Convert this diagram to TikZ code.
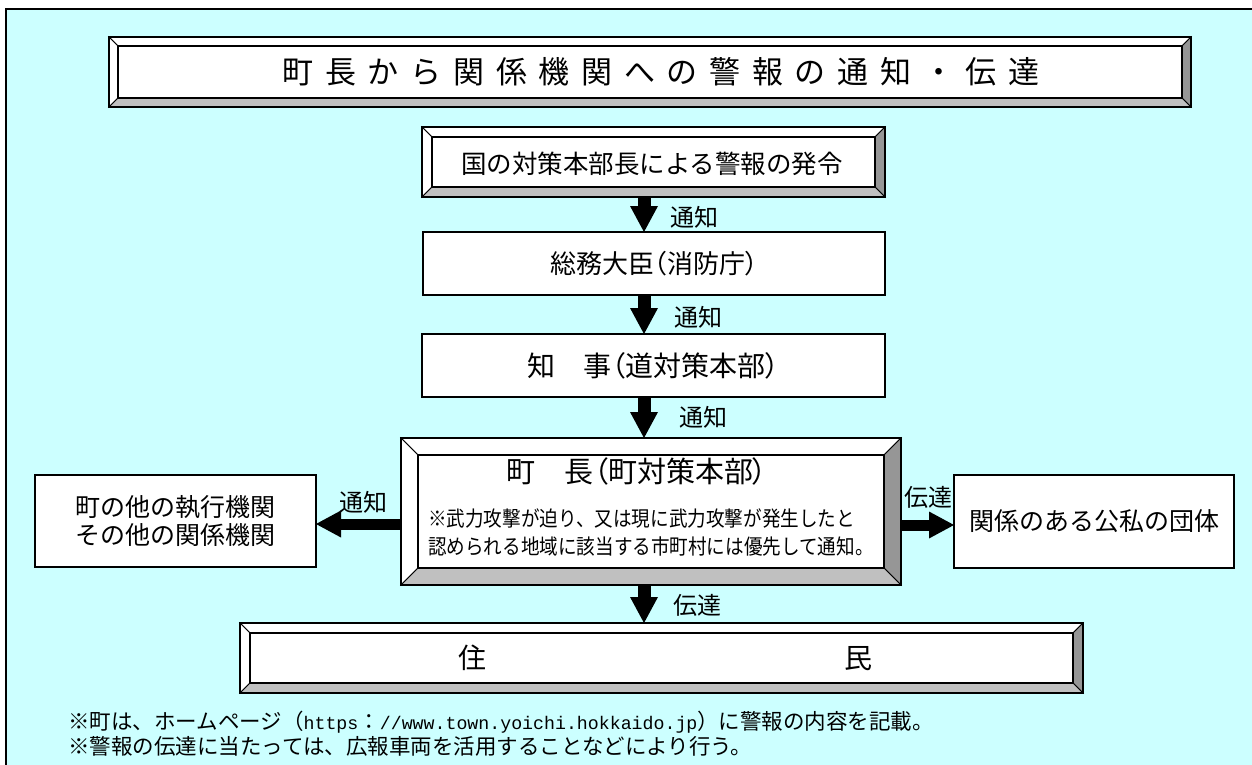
\documentclass[tikz,border=0pt]{standalone}
\usepackage{fontspec}
\setmainfont{Noto Sans CJK JP}
\newfontfamily\jp{Noto Sans CJK JP}
\newfontfamily\jpp{Noto Sans CJK JP}[RawFeature=+palt]
\newfontfamily\jpn{Noto Sans CJK JP}[FakeStretch=0.885]
\newfontfamily\monof{Liberation Mono}
\usetikzlibrary{arrows.meta,calc}
\definecolor{bgcyan}{HTML}{CCFFFF}
\definecolor{bevdark}{HTML}{969696}
\definecolor{bevlight}{HTML}{C0C0C0}
\newcommand\jfs[1]{\fontsize{#1pt}{#1pt}\selectfont}
\newcommand\tsp{\hspace{11.7pt}}
\newcommand\bevelize[2]{%
  \coordinate (o1) at (#1.north west);
  \coordinate (o2) at (#1.north east);
  \coordinate (o3) at (#1.south east);
  \coordinate (o4) at (#1.south west);
  \coordinate (i1) at ($(#1.north west)+(#2,#2)$);
  \coordinate (i2) at ($(#1.north east)+(-#2,#2)$);
  \coordinate (i3) at ($(#1.south east)+(-#2,-#2)$);
  \coordinate (i4) at ($(#1.south west)+(#2,-#2)$);
  \filldraw[face, fill=white] (o1) -- (o2) -- (i2) -- (i1) -- cycle;
  \filldraw[face, fill=white] (o1) -- (i1) -- (i4) -- (o4) -- cycle;
  \filldraw[face, fill=bevdark] (o2) -- (o3) -- (i3) -- (i2) -- cycle;
  \filldraw[face, fill=bevlight] (o4) -- (i4) -- (i3) -- (o3) -- cycle;
  \draw[innerline] (i1) rectangle (i3);
  \draw[boxline] (o1) rectangle (o3);
}
\tikzset{
  boxline/.style={draw=black, line width=2pt},
  innerline/.style={draw=black, line width=1.6pt},
  face/.style={draw=black, line width=0.9pt, line join=miter},
  plainbox/.style={draw=black, line width=1.6pt, fill=white, inner sep=0pt, outer sep=0pt},
  bevbox/.style={draw=black, line width=2pt, fill=white, inner sep=0pt, outer sep=0pt},
  lbl/.style={font=\jp\jfs{24}, inner sep=0pt},
  varrow/.style={line width=13pt, -{Triangle[length=26pt,width=28pt,line width=0pt]}},
  harrow/.style={line width=11pt, -{Triangle[length=25pt,width=27pt,line width=0pt]}},
  note/.style={font=\jp\jfs{21.5}, inner sep=0pt, anchor=west},
}
\begin{document}
\begin{tikzpicture}[x=1pt,y=-1pt]
\useasboundingbox (0,0) rectangle (1252,765);
\fill[white] (0,0) rectangle (1252,765);
\fill[bgcyan] (6,9) rectangle (1252,765);
\draw[line width=2pt] (6,765) -- (6,9) -- (1252,9);

% title
\node[bevbox, minimum width=1082pt, minimum height=70pt] (title) at (650,72) {};
\bevelize{title}{9}
\node[font=\jp\jfs{31}, inner sep=0pt] (titletext) at (661,72)
  {町\tsp 長\tsp か\tsp ら\tsp 関\tsp 係\tsp 機\tsp 関\tsp へ\tsp の\tsp 警\tsp 報\tsp の\tsp 通\tsp 知\tsp ・\tsp 伝\tsp 達};

% column of boxes
\node[bevbox, minimum width=463pt, minimum height=70pt] (kuni) at (653.5,162) {};
\bevelize{kuni}{10}
\node[font=\jp\jfs{25.5}, inner sep=0pt] (kunitext) at (652,164) {国の対策本部長による警報の発令};

\node[plainbox, minimum width=462pt, minimum height=63pt, font=\jpp\jfs{26}] (somu) at (654,263.5) {総務大臣（消防庁）};
\node[plainbox, minimum width=463pt, minimum height=63pt, font=\jpp\jfs{28}] (chiji) at (653.5,365.5) {知　事（道対策本部）};

\node[bevbox, minimum width=500pt, minimum height=147pt] (chocho) at (651,511.5) {};
\bevelize{chocho}{17}
\node[font=\jpp\jfs{29}, inner sep=0pt] (chochotitle) at (637,471) {町　長（町対策本部）};
\node[font=\jpn\jfs{21}, inner sep=0pt, anchor=west] (chocho1) at (428,519) {※武力攻撃が迫り、又は現に武力攻撃が発生したと};
\node[font=\jpn\jfs{21}, inner sep=0pt, anchor=west] (chocho2) at (428,547) {認められる地域に該当する市町村には優先して通知。};

\node[plainbox, minimum width=281pt, minimum height=92pt, align=center, font=\jp\fontsize{25pt}{28pt}\selectfont] (left) at (175.5,521) {町の他の執行機関\\その他の関係機関};
\node[plainbox, minimum width=280pt, minimum height=93pt, font=\jp\jfs{25}] (right) at (1094,521.5) {関係のある公私の団体};

\node[bevbox, minimum width=843pt, minimum height=70pt] (jumin) at (661.5,658) {};
\bevelize{jumin}{10}
\node[font=\jp\jfs{28}, inner sep=0pt] (jumintext) at (665,658) {住\hspace{358pt}民};

% arrows
\coordinate (ax) at (644,0);
\coordinate (ayl) at (0,524);
\coordinate (ayr) at (0,525);
\draw[varrow] (kuni.south -| ax) -- (somu.north -| ax);
\draw[varrow] (somu.south -| ax) -- (chiji.north -| ax);
\draw[varrow] (chiji.south -| ax) -- (chocho.north -| ax);
\draw[varrow] (chocho.south -| ax) -- (jumin.north -| ax);
\draw[harrow] (chocho.west |- ayl) -- (left.east |- ayl);
\draw[harrow] (chocho.east |- ayr) -- (right.west |- ayr);

% labels
\node[lbl] (lab1) at (694,217) {通知};
\node[lbl] (lab2) at (698,317) {通知};
\node[lbl] (lab3) at (703,417) {通知};
\node[lbl] (lab4) at (697,605) {伝達};
\node[lbl] (lab5) at (363,502) {通知};
\node[lbl] (lab6) at (928,497) {伝達};

% notes
\node[note] (note1) at (68,722) {※町は、ホームページ（{\monof\fontsize{18.25pt}{18pt}\selectfont https}：{\monof\fontsize{18.25pt}{18pt}\selectfont //www.town.yoichi.hokkaido.jp}）に警報の内容を記載。};
\node[note] (note2) at (68,746) {※警報の伝達に当たっては、広報車両を活用することなどにより行う。};
\end{tikzpicture}
\end{document}
